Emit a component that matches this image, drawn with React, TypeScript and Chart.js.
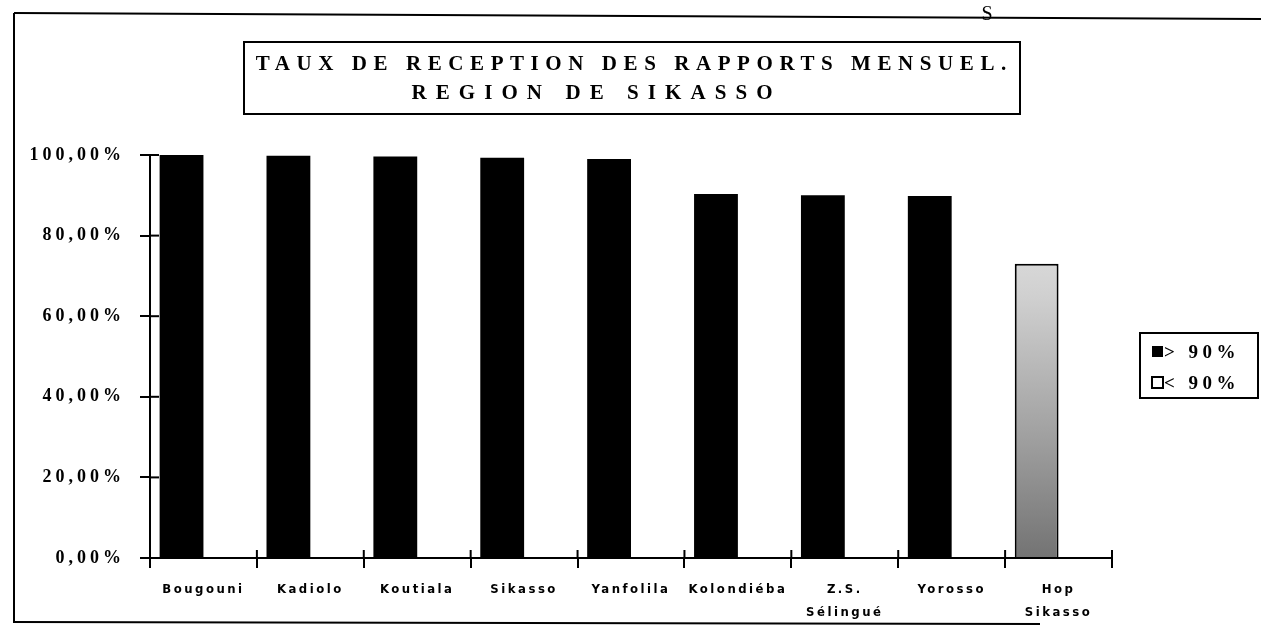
import React, { useEffect, useRef } from "react";
import { Chart, registerables } from "chart.js";

Chart.register(...registerables);

const TITLE_LINES = ["TAUX DE RECEPTION DES RAPPORTS MENSUEL.", "REGION DE SIKASSO"];
const STRAY_LETTER = "S";
const CATEGORIES: (string | string[])[] = [
  "Bougouni",
  "Kadiolo",
  "Koutiala",
  "Sikasso",
  "Yanfolila",
  "Kolondiéba",
  ["Z.S.", "Sélingué"],
  "Yorosso",
  ["Hop", "Sikasso"],
];
const ABOVE_90: (number | null)[] = [100, 99.8, 99.6, 99.3, 99.0, 90.3, 90.0, 89.8, null];
const BELOW_90: (number | null)[] = [null, null, null, null, null, null, null, null, 73.0];
const SPACER: number[] = [0, 0, 0, 0, 0, 0, 0, 0, 0];
const LEGEND_LABELS = ["> 90%", "< 90%"];
const Y_MIN = 0;
const Y_MAX = 100;
const Y_STEP = 20;

const fmtPct = (v: number) => v.toFixed(2).replace(".", ",") + "%";

// draw a text line spaced so it spans a given width, centred on cx
const spacedText = (ctx: any, text: string, cx: number, y: number, width: number) => {
  ctx.letterSpacing = "0px";
  const w0 = ctx.measureText(text).width;
  const sp = Math.max(0, (width - w0) / text.length);
  ctx.letterSpacing = sp + "px";
  const w = ctx.measureText(text).width - sp;
  ctx.textAlign = "left";
  ctx.fillText(text, cx - w / 2, y);
};

const decorPlugin = {
  id: "decor",
  beforeDraw(chart: any) {
    const ctx = chart.ctx;
    ctx.save();
    ctx.fillStyle = "#ffffff";
    ctx.fillRect(0, 0, chart.width, chart.height);
    ctx.restore();
    const spacing: Record<string, string> = { x: "2.5px", y: "4px" };
    Object.keys(spacing).forEach((id) => {
      const sc = chart.scales[id];
      if (sc && !sc.__wrapped) {
        const orig = sc.drawLabels.bind(sc);
        sc.drawLabels = (area: any) => {
          ctx.save();
          (ctx as any).letterSpacing = spacing[id];
          orig(area);
          ctx.restore();
        };
        sc.__wrapped = true;
      }
    });
  },
  afterDraw(chart: any) {
    const ctx = chart.ctx as CanvasRenderingContext2D;
    const { left, bottom } = chart.chartArea;
    const xs = chart.scales.x;
    const ys = chart.scales.y;
    ctx.save();
    ctx.strokeStyle = "#000";
    ctx.fillStyle = "#000";

    // inner tick marks crossing the axes
    ctx.lineWidth = 2;
    ys.ticks.forEach((t: any) => {
      const y = ys.getPixelForValue(t.value);
      ctx.beginPath();
      ctx.moveTo(left, y);
      ctx.lineTo(left + 9, y);
      ctx.stroke();
    });
    for (let i = 0; i <= CATEGORIES.length; i++) {
      const x = xs.getPixelForValue(i - 0.5);
      ctx.beginPath();
      ctx.moveTo(x, bottom);
      ctx.lineTo(x, bottom - 8);
      ctx.stroke();
    }

    // outer frame (scanned page borders)
    ctx.lineWidth = 2;
    ctx.beginPath();
    ctx.moveTo(14, 13);
    ctx.lineTo(1261, 19);
    ctx.stroke();
    ctx.beginPath();
    ctx.moveTo(14, 13);
    ctx.lineTo(14, 623);
    ctx.stroke();
    ctx.beginPath();
    ctx.moveTo(14, 622);
    ctx.lineTo(1040, 624);
    ctx.stroke();

    // stray letter at top
    ctx.font = '20px "Liberation Serif"';
    ctx.textAlign = "center";
    ctx.textBaseline = "alphabetic";
    ctx.fillText(STRAY_LETTER, 987, 20);

    // title box
    ctx.lineWidth = 2;
    ctx.strokeRect(244, 42, 776, 72);
    ctx.font = 'bold 21px "Liberation Serif"';
    spacedText(ctx, TITLE_LINES[0], 631, 70, 757);
    spacedText(ctx, TITLE_LINES[1], 592, 99, 370);

    // legend
    const lx = 1140, ly = 333, lw = 118, lh = 65;
    (ctx as any).letterSpacing = "0px";
    ctx.lineWidth = 2;
    ctx.strokeRect(lx, ly, lw, lh);
    ctx.font = 'bold 19px "Liberation Serif"';
    (ctx as any).letterSpacing = "4.5px";
    ctx.textBaseline = "middle";
    ctx.textAlign = "left";
    const ds = chart.data.datasets;
    LEGEND_LABELS.forEach((lab, i) => {
      const cy = ly + 19 + i * 31;
      if (i === 0) {
        ctx.fillStyle = "#000";
        ctx.fillRect(lx + 12, cy - 6, 11, 11);
      } else {
        ctx.fillStyle = "#fff";
        ctx.fillRect(lx + 12, cy - 6, 11, 11);
        ctx.lineWidth = 2;
        ctx.strokeRect(lx + 12, cy - 6, 11, 11);
      }
      ctx.fillStyle = "#000";
      ctx.fillText(ds[i].label, lx + 24, cy + 1);
    });
    ctx.restore();
  },
};

export default function App() {
  const ref = useRef<HTMLCanvasElement | null>(null);
  useEffect(() => {
    if (!ref.current) return;
    const grayFill = (c: any) => {
      const area = c.chart.chartArea;
      if (!area) return "#bbb";
      const g = c.chart.ctx.createLinearGradient(0, area.top, 0, area.bottom);
      g.addColorStop(0, "#f0f0f0");
      g.addColorStop(0.35, "#d0d0d0");
      g.addColorStop(0.7, "#a0a0a0");
      g.addColorStop(1, "#737373");
      return g;
    };
    const chart = new Chart(ref.current, {
      type: "bar",
      data: {
        labels: CATEGORIES as any,
        datasets: [
          {
            label: LEGEND_LABELS[0],
            data: ABOVE_90,
            backgroundColor: "#000000",
            borderWidth: 0,
            stack: "a",
          },
          {
            label: LEGEND_LABELS[1],
            data: BELOW_90,
            backgroundColor: grayFill,
            borderColor: "#000000",
            borderWidth: 2,
            stack: "a",
          },
          {
            label: "",
            data: SPACER,
            backgroundColor: "rgba(0,0,0,0)",
            borderWidth: 0,
            stack: "b",
          },
        ] as any,
      },
      options: {
        animation: false,
        responsive: false,
        events: [],
        categoryPercentage: 0.82,
        barPercentage: 1.0,
        layout: { padding: { top: 155, right: 149, bottom: 0, left: 0 } },
        plugins: {
          legend: { display: false },
          title: { display: false },
          tooltip: { enabled: false },
        },
        scales: {
          x: {
            stacked: true,
            offset: true,
            grid: {
              display: true,
              offset: true,
              drawOnChartArea: false,
              drawTicks: true,
              tickLength: 10,
              color: "#000",
              lineWidth: 2,
            },
            border: { display: true, color: "#000", width: 2 },
            ticks: {
              color: "#000",
              padding: 11,
              maxRotation: 0,
              autoSkip: false,
              font: {
                family: '"Liberation Sans Narrow", "DejaVu Sans Condensed", "Liberation Sans", sans-serif',
                size: 13,
                weight: "bold",
                lineHeight: 1.7,
              },
            },
            afterFit: (s: any) => {
              s.height = 71;
            },
          },
          y: {
            stacked: true,
            min: Y_MIN,
            max: Y_MAX,
            ticks: {
              stepSize: Y_STEP,
              color: "#000",
              padding: 15,
              font: { family: '"Liberation Serif", serif', size: 18, weight: "bold" },
              callback: (v: any) => fmtPct(Number(v)),
            },
            grid: {
              display: true,
              drawOnChartArea: false,
              drawTicks: true,
              tickLength: 10,
              color: "#000",
              lineWidth: 2,
            },
            border: { display: true, color: "#000", width: 2 },
            afterFit: (s: any) => {
              s.width = 150;
            },
          },
        },
      },
      plugins: [decorPlugin],
    });
    return () => chart.destroy();
  }, []);
  return (
    <div style={{ position: "absolute", left: 0, top: 0, width: 1261, height: 629, background: "#fff" }}>
      <canvas ref={ref} width={1261} height={629} />
    </div>
  );
}
